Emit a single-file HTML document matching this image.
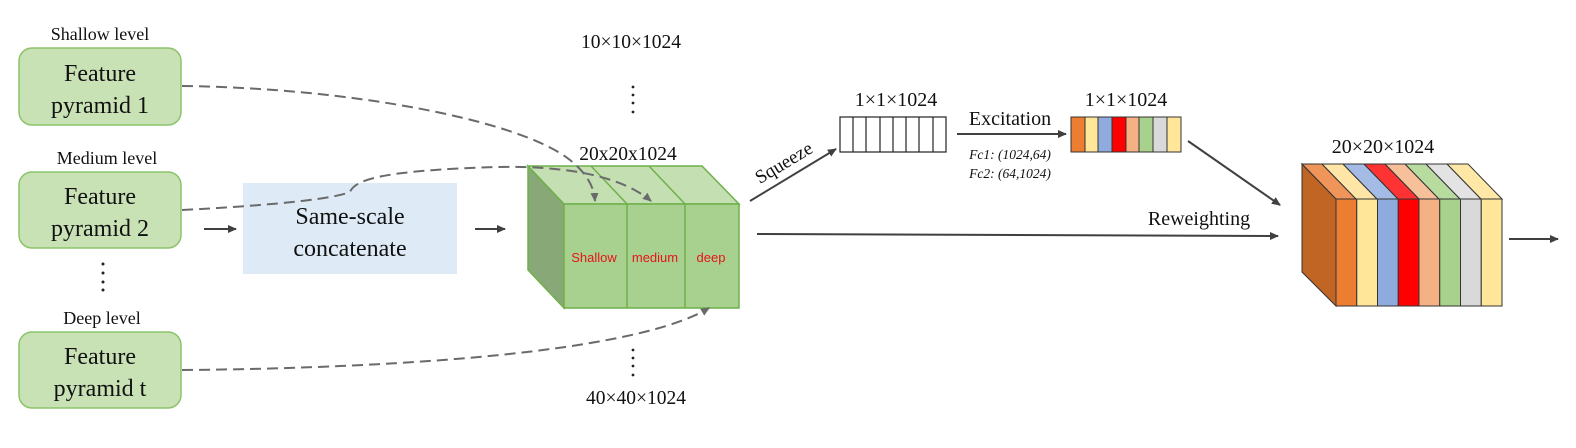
<!DOCTYPE html>
<html><head><meta charset="utf-8"><style>
html,body{margin:0;padding:0;background:#fff;}
svg{display:block;}
text{font-family:"Liberation Serif",serif;fill:#111;}
.s{font-family:"Liberation Sans",sans-serif;fill:#e8141c;font-size:13px;}
</style></head><body>
<svg width="1576" height="448" viewBox="0 0 1576 448" xmlns="http://www.w3.org/2000/svg">
<defs>
<marker id="a" markerWidth="10" markerHeight="10" refX="8" refY="5" orient="auto" markerUnits="userSpaceOnUse"><path d="M0,1 L9,5 L0,9 z" fill="#404040"/></marker>
<marker id="d" markerWidth="10" markerHeight="10" refX="8" refY="5" orient="auto" markerUnits="userSpaceOnUse"><path d="M0,1 L9,5 L0,9 z" fill="#6a6a6a"/></marker>
</defs>
<text x="100" y="40" font-size="18" text-anchor="middle">Shallow level</text>
<text x="107" y="164" font-size="18" text-anchor="middle">Medium level</text>
<text x="102" y="324" font-size="18" text-anchor="middle">Deep level</text>
<g fill="#c8e2b6" stroke="#8cc36a" stroke-width="1.5">
<rect x="19" y="48" width="162" height="77" rx="13"/>
<rect x="19" y="172" width="162" height="76" rx="13"/>
<rect x="19" y="332" width="162" height="76" rx="13"/>
</g>
<g font-size="24" text-anchor="middle">
<text x="100" y="81">Feature</text><text x="100" y="113">pyramid 1</text>
<text x="100" y="204">Feature</text><text x="100" y="236">pyramid 2</text>
<text x="100" y="364">Feature</text><text x="100" y="396">pyramid t</text>
</g>
<g fill="#222"><circle cx="103" cy="264" r="1.5"/><circle cx="103" cy="273" r="1.5"/><circle cx="103" cy="282" r="1.5"/><circle cx="103" cy="290" r="1.5"/></g>
<rect x="243" y="183" width="214" height="91" fill="#deebf6"/>
<text x="350" y="224" font-size="24" text-anchor="middle">Same-scale</text>
<text x="350" y="256" font-size="24" text-anchor="middle">concatenate</text>
<line x1="204" y1="229" x2="236" y2="229" stroke="#404040" stroke-width="2" marker-end="url(#a)"/>
<line x1="475" y1="229" x2="505" y2="229" stroke="#404040" stroke-width="2" marker-end="url(#a)"/>
<polygon points="528,166 564,204 564,308 528,270" fill="#88a878" stroke="#6fb04a" stroke-width="1.5"/>
<polygon points="528,166 702,166 739,204 564,204" fill="#c4dfb2" stroke="#6fb04a" stroke-width="1.5"/>
<rect x="564" y="204" width="175" height="104" fill="#a8d08e" stroke="#6fb04a" stroke-width="1.5"/>
<g stroke="#6fb04a" stroke-width="1.5">
<line x1="627" y1="204" x2="627" y2="308"/><line x1="685" y1="204" x2="685" y2="308"/>
<line x1="591" y1="166" x2="627" y2="204"/><line x1="649" y1="166" x2="685" y2="204"/>
</g>
<text class="s" x="594" y="262" text-anchor="middle">Shallow</text>
<text class="s" x="655" y="262" text-anchor="middle">medium</text>
<text class="s" x="711" y="262" text-anchor="middle">deep</text>
<g fill="none" stroke="#6a6a6a" stroke-width="2" stroke-dasharray="11,6">
<path d="M182,86 C350,88 520,120 570,160 C585,172 594,185 595,201" marker-end="url(#d)"/>
<path d="M182,210 C260,206 330,200 350,192 C355,180 380,172 470,168 C560,163 620,175 651,201" marker-end="url(#d)"/>
<path d="M182,370 C420,368 640,350 709,308" marker-end="url(#d)"/>
</g>
<text x="631" y="48" font-size="19.5" text-anchor="middle">10×10×1024</text>
<text x="628" y="160" font-size="19.5" text-anchor="middle">20x20x1024</text>
<text x="636" y="404" font-size="19.5" text-anchor="middle">40×40×1024</text>
<g fill="#222"><circle cx="633" cy="87" r="1.4"/><circle cx="633" cy="95" r="1.4"/><circle cx="633" cy="103" r="1.4"/><circle cx="633" cy="112" r="1.4"/>
<circle cx="633" cy="350" r="1.4"/><circle cx="633" cy="358" r="1.4"/><circle cx="633" cy="366" r="1.4"/><circle cx="633" cy="375" r="1.4"/></g>
<line x1="750" y1="201" x2="836" y2="149" stroke="#404040" stroke-width="2" marker-end="url(#a)"/>
<text x="787" y="168" font-size="19" text-anchor="middle" transform="rotate(-31 787 168)">Squeeze</text>
<text x="896" y="106" font-size="20" text-anchor="middle">1×1×1024</text>
<rect x="840" y="117" width="106" height="35" fill="#fff" stroke="#222" stroke-width="1.2"/>
<g stroke="#222" stroke-width="1.2">
<line x1="853" y1="117" x2="853" y2="152"/><line x1="866" y1="117" x2="866" y2="152"/><line x1="880" y1="117" x2="880" y2="152"/><line x1="893" y1="117" x2="893" y2="152"/><line x1="906" y1="117" x2="906" y2="152"/><line x1="919" y1="117" x2="919" y2="152"/><line x1="933" y1="117" x2="933" y2="152"/>
</g>
<text x="1010" y="125" font-size="20" text-anchor="middle">Excitation</text>
<line x1="957" y1="134" x2="1066" y2="134" stroke="#404040" stroke-width="2" marker-end="url(#a)"/>
<text x="1010" y="159" font-size="13.5" font-style="italic" text-anchor="middle">Fc1: (1024,64)</text>
<text x="1010" y="178" font-size="13.5" font-style="italic" text-anchor="middle">Fc2: (64,1024)</text>
<text x="1126" y="106" font-size="20" text-anchor="middle">1×1×1024</text>
<g stroke="#333" stroke-width="1">
<rect x="1071" y="117" width="14" height="35" fill="#ed7d31"/>
<rect x="1085" y="117" width="13" height="35" fill="#ffe699"/>
<rect x="1098" y="117" width="14" height="35" fill="#8faadc"/>
<rect x="1112" y="117" width="14" height="35" fill="#ff0000"/>
<rect x="1126" y="117" width="13" height="35" fill="#f4b183"/>
<rect x="1139" y="117" width="14" height="35" fill="#a9d18e"/>
<rect x="1153" y="117" width="14" height="35" fill="#d9d9d9"/>
<rect x="1167" y="117" width="14" height="35" fill="#ffe699"/>
</g>
<line x1="1188" y1="141" x2="1280" y2="205" stroke="#404040" stroke-width="2" marker-end="url(#a)"/>
<line x1="757" y1="234" x2="1278" y2="236" stroke="#404040" stroke-width="2" marker-end="url(#a)"/>
<text x="1199" y="225" font-size="20" text-anchor="middle">Reweighting</text>
<text x="1383" y="153" font-size="20" text-anchor="middle">20×20×1024</text>
<polygon points="1302,164 1336,199 1336,306 1302,272" fill="#c06523" stroke="#333" stroke-width="1"/>
<g stroke="#333" stroke-width="1">
<polygon points="1302,164 1322,164 1356,199 1336,199" fill="#f0955a"/>
<polygon points="1322,164 1343,164 1377,199 1356,199" fill="#ffe6a6"/>
<polygon points="1343,164 1364,164 1398,199 1377,199" fill="#a4bbe5"/>
<polygon points="1364,164 1385,164 1419,199 1398,199" fill="#ff3333"/>
<polygon points="1385,164 1405,164 1439,199 1419,199" fill="#f6c09a"/>
<polygon points="1405,164 1426,164 1460,199 1439,199" fill="#b8dba0"/>
<polygon points="1426,164 1447,164 1481,199 1460,199" fill="#e3e3e3"/>
<polygon points="1447,164 1468,164 1502,199 1481,199" fill="#ffe8a6"/>
<rect x="1336" y="199" width="20.75" height="107" fill="#ed7d31"/>
<rect x="1356.75" y="199" width="20.75" height="107" fill="#ffe699"/>
<rect x="1377.5" y="199" width="20.75" height="107" fill="#8faadc"/>
<rect x="1398.25" y="199" width="20.75" height="107" fill="#ff0000"/>
<rect x="1419" y="199" width="20.75" height="107" fill="#f4b183"/>
<rect x="1439.75" y="199" width="20.75" height="107" fill="#a9d18e"/>
<rect x="1460.5" y="199" width="20.75" height="107" fill="#d9d9d9"/>
<rect x="1481.25" y="199" width="20.75" height="107" fill="#ffe699"/>
</g>
<line x1="1509" y1="239" x2="1558" y2="239" stroke="#404040" stroke-width="2" marker-end="url(#a)"/>
</svg>
</body></html>
